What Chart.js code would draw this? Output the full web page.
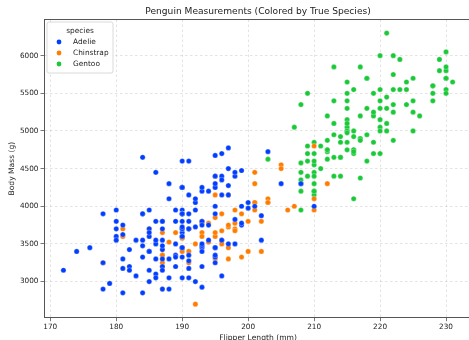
<!DOCTYPE html>
<html lang="en">
<head>
  <meta charset="UTF-8">
  <title>Penguin Measurements</title>
  <script src="https://cdn.jsdelivr.net/npm/chart.js"></script>
  <style>
    body {
      margin: 0;
      background: #fff;
      overflow: hidden;
    }
    canvas {
      display: block;
    }
  </style>
</head>
<body>
  <canvas id="penguinChart" width="475" height="340"></canvas>

  <script>
    // flipper length (mm) and body mass (g), one pair per bird
    const adelieFlipper = [181,186,195,193,190,181,195,193,190,186,180,182,191,198,185,195,197,184,194,174,
      180,189,185,180,187,183,187,172,180,178,178,188,184,195,196,190,180,181,184,182,
      195,186,196,185,190,182,179,190,191,186,188,190,200,187,191,186,193,181,194,185,
      195,185,192,184,192,195,188,190,198,190,190,196,197,190,195,191,184,187,195,189,
      196,187,193,191,194,190,189,189,190,202,205,185,186,187,208,190,196,178,192,192,
      203,183,190,193,184,199,190,181,197,198,191,193,197,191,196,188,199,189,189,187,
      198,176,202,186,199,191,195,191,210,190,197,193,199,187,190,191,200,185,193,193,
      187,188,190,192,185,190,184,195,193,187,201];
    const adelieMass = [3750,3800,3250,3450,3650,3625,4675,3475,4250,3300,3700,3200,3800,4400,3700,3450,4500,3325,4200,3400,
      3600,3800,3950,3800,3800,3550,3200,3150,3950,3250,3900,3300,3900,3325,4150,3950,3550,3300,4650,3150,
      3900,3100,4400,3000,4600,3425,2975,3450,4150,3500,4300,3450,4050,2900,3700,3550,3800,2850,3750,3150,
      4400,3600,4050,2850,3950,3350,4100,3050,4450,3600,3900,3550,4150,3700,4250,3700,3900,3550,4000,3200,
      4700,3800,4200,3350,3550,3800,3500,3950,3600,3550,4300,3400,4450,3300,4300,3700,4350,2900,4100,3725,
      4725,3075,4250,2925,3550,3750,3900,3175,4775,3825,4600,3200,4275,3900,3075,2900,3775,3350,3325,3150,
      3500,3450,3875,3050,4000,3275,4300,3050,4000,3325,3500,3500,4475,3425,3900,3175,3975,3400,4250,3400,
      3475,3050,3725,3000,3650,4250,3475,3450,3750,3700,4000];

    const chinstrapFlipper = [192,196,193,188,197,198,178,197,195,198,193,194,185,201,190,201,197,181,190,195,
      181,191,187,193,195,197,200,200,191,205,187,201,187,203,195,199,195,210,192,205,
      210,187,196,196,196,201,190,212,187,198,199,201,193,203,187,197,191,203,202,194,
      206,189,195,207,202,193,210,198];
    const chinstrapMass = [3500,3900,3650,3525,3725,3950,3250,3750,4150,3700,3800,3775,3700,4050,3575,4050,3300,3700,3450,4400,
      3600,3400,2900,3800,3300,4150,3400,3800,3700,4550,3200,4300,3350,4100,3600,3900,3850,4800,2700,4500,
      3950,3650,3550,3500,3675,4450,3400,4300,3250,3675,3325,3950,3600,4050,3350,3450,3250,4050,3800,3525,
      3950,3650,3650,4000,3400,3775,4100,3775];

    const gentooFlipper = [211,230,210,218,215,210,211,219,209,215,214,216,214,213,210,217,210,221,209,222,
      218,215,213,215,215,215,216,215,210,220,222,209,207,230,220,220,213,219,208,208,
      208,225,210,216,222,217,210,225,213,215,210,220,210,225,217,220,208,220,208,224,
      208,221,214,231,219,230,214,229,220,223,216,221,221,217,216,230,209,220,215,223,
      212,221,212,224,212,228,218,218,212,230,218,228,212,224,214,226,216,222,203,225,
      219,228,215,228,216,215,210,219,208,209,216,229,213,230,217,230,217,222,214,215,
      222,212,213];
    const gentooMass = [4500,5700,4450,5700,5400,4550,4800,5200,4400,5150,4650,5550,4650,5850,4200,5850,4150,6300,4800,5350,
      5700,5000,4400,5050,5000,5100,4100,5650,4600,5550,5250,4700,5050,6050,5150,5400,4950,5250,4350,5350,
      3950,5700,4300,4750,5550,4900,4200,5400,5100,5300,4850,5300,4400,5000,4900,5050,4300,5000,4450,5550,
      4200,5300,4400,5650,4700,5700,4650,5800,4700,5550,4750,5000,5100,5200,4700,5800,4600,6000,4750,5950,
      4625,5450,4725,5350,4750,5600,4600,5300,4875,5550,4950,5400,4750,5650,4850,5200,4925,4875,4625,5250,
      4850,5600,4975,5500,4725,5500,4700,5500,4575,5500,5000,5950,4650,5500,4375,5850,4875,6000,4925,4850,
      5750,5200,5400];

    const speciesNames = ['Adelie', 'Chinstrap', 'Gentoo'];
    const speciesColors = ['#023eff', '#ff7c00', '#1ac938'];
    const flipperTicks = [170, 180, 190, 200, 210, 220, 230];
    const massTicks = [3000, 3500, 4000, 4500, 5000, 5500, 6000];

    const toPoints = (xs, ys) => xs.map((x, i) => ({ x: x, y: ys[i] }));
    const seriesPoints = [
      toPoints(adelieFlipper, adelieMass),
      toPoints(chinstrapFlipper, chinstrapMass),
      toPoints(gentooFlipper, gentooMass)
    ];

    const FONT = 'DejaVu Sans';

    // matplotlib style: top spine + legend box inside the axes
    const axesExtras = {
      id: 'axesExtras',
      afterDraw(chart) {
        const { ctx, chartArea: a } = chart;
        ctx.save();
        ctx.strokeStyle = '#555';
        ctx.lineWidth = 1;
        ctx.beginPath();
        ctx.moveTo(a.left, a.top);
        ctx.lineTo(a.right, a.top);
        ctx.stroke();

        const bx = a.left + 3, by = a.top + 2.5, bw = 66, bh = 51;
        ctx.fillStyle = 'rgba(255,255,255,0.85)';
        ctx.strokeStyle = '#d0d0d0';
        ctx.lineWidth = 0.8;
        ctx.beginPath();
        ctx.roundRect(bx, by, bw, bh, 2);
        ctx.fill();
        ctx.stroke();

        ctx.fillStyle = '#222';
        ctx.font = '7.4px "' + FONT + '"';
        ctx.textBaseline = 'middle';
        ctx.textAlign = 'center';
        ctx.fillText('species', bx + bw / 2, by + 9);
        ctx.textAlign = 'left';
        speciesNames.forEach((name, i) => {
          const y = by + 20 + i * 11;
          ctx.fillStyle = speciesColors[i];
          ctx.beginPath();
          ctx.arc(bx + 12, y, 2.4, 0, Math.PI * 2);
          ctx.fill();
          ctx.fillStyle = '#222';
          ctx.fillText(name, bx + 26, y);
        });
        ctx.restore();
      }
    };

    const ctx = document.getElementById('penguinChart').getContext('2d');

    new Chart(ctx, {
      type: 'scatter',
      data: {
        datasets: speciesNames.map((name, i) => ({
          label: name,
          data: seriesPoints[i],
          backgroundColor: speciesColors[i],
          borderColor: '#ffffff',
          borderWidth: 0.3,
          pointRadius: 2.6,
          pointHoverRadius: 2.6
        }))
      },
      options: {
        responsive: false,
        animation: false,
        layout: { padding: { left: 0, right: 2, top: 0, bottom: 0 } },
        plugins: {
          legend: { display: false },
          tooltip: { enabled: false },
          title: {
            display: true,
            fullSize: false,
            text: 'Penguin Measurements (Colored by True Species)',
            color: '#222',
            font: { family: FONT, size: 9.1, weight: 'normal' },
            padding: { top: 6.5, bottom: 2.1 }
          }
        },
        scales: {
          x: {
            type: 'linear',
            min: 169.05,
            max: 233.95,
            afterBuildTicks: s => { s.ticks = flipperTicks.map(v => ({ value: v })); },
            afterFit: s => { s.height = 22.3; },
            ticks: { color: '#222', font: { family: FONT, size: 7.3 }, padding: 1.5, callback: v => String(v) },
            grid: { color: 'rgba(176,176,176,0.6)', lineWidth: 0.6, tickColor: '#555', tickLength: 3.5, tickWidth: 0.8 },
            border: { color: '#555', width: 1, dash: [2.5, 2.5] },
            title: {
              display: true,
              text: 'Flipper Length (mm)',
              color: '#222',
              font: { family: FONT, size: 7.6 },
              padding: { top: 0, bottom: -3 }
            }
          },
          y: {
            type: 'linear',
            min: 2520,
            max: 6480,
            afterBuildTicks: s => { s.ticks = massTicks.map(v => ({ value: v })); },
            afterFit: s => { s.width = 44; },
            ticks: { color: '#222', font: { family: FONT, size: 7.3 }, padding: 2, callback: v => String(v) },
            grid: { color: 'rgba(176,176,176,0.6)', lineWidth: 0.6, tickColor: '#555', tickLength: 3.5, tickWidth: 0.8 },
            border: { color: '#555', width: 1, dash: [2.5, 2.5] },
            title: {
              display: true,
              text: 'Body Mass (g)',
              color: '#222',
              font: { family: FONT, size: 7.6 },
              padding: { top: 7, bottom: 0 }
            }
          }
        }
      },
      plugins: [axesExtras]
    });
  </script>
</body>
</html>
